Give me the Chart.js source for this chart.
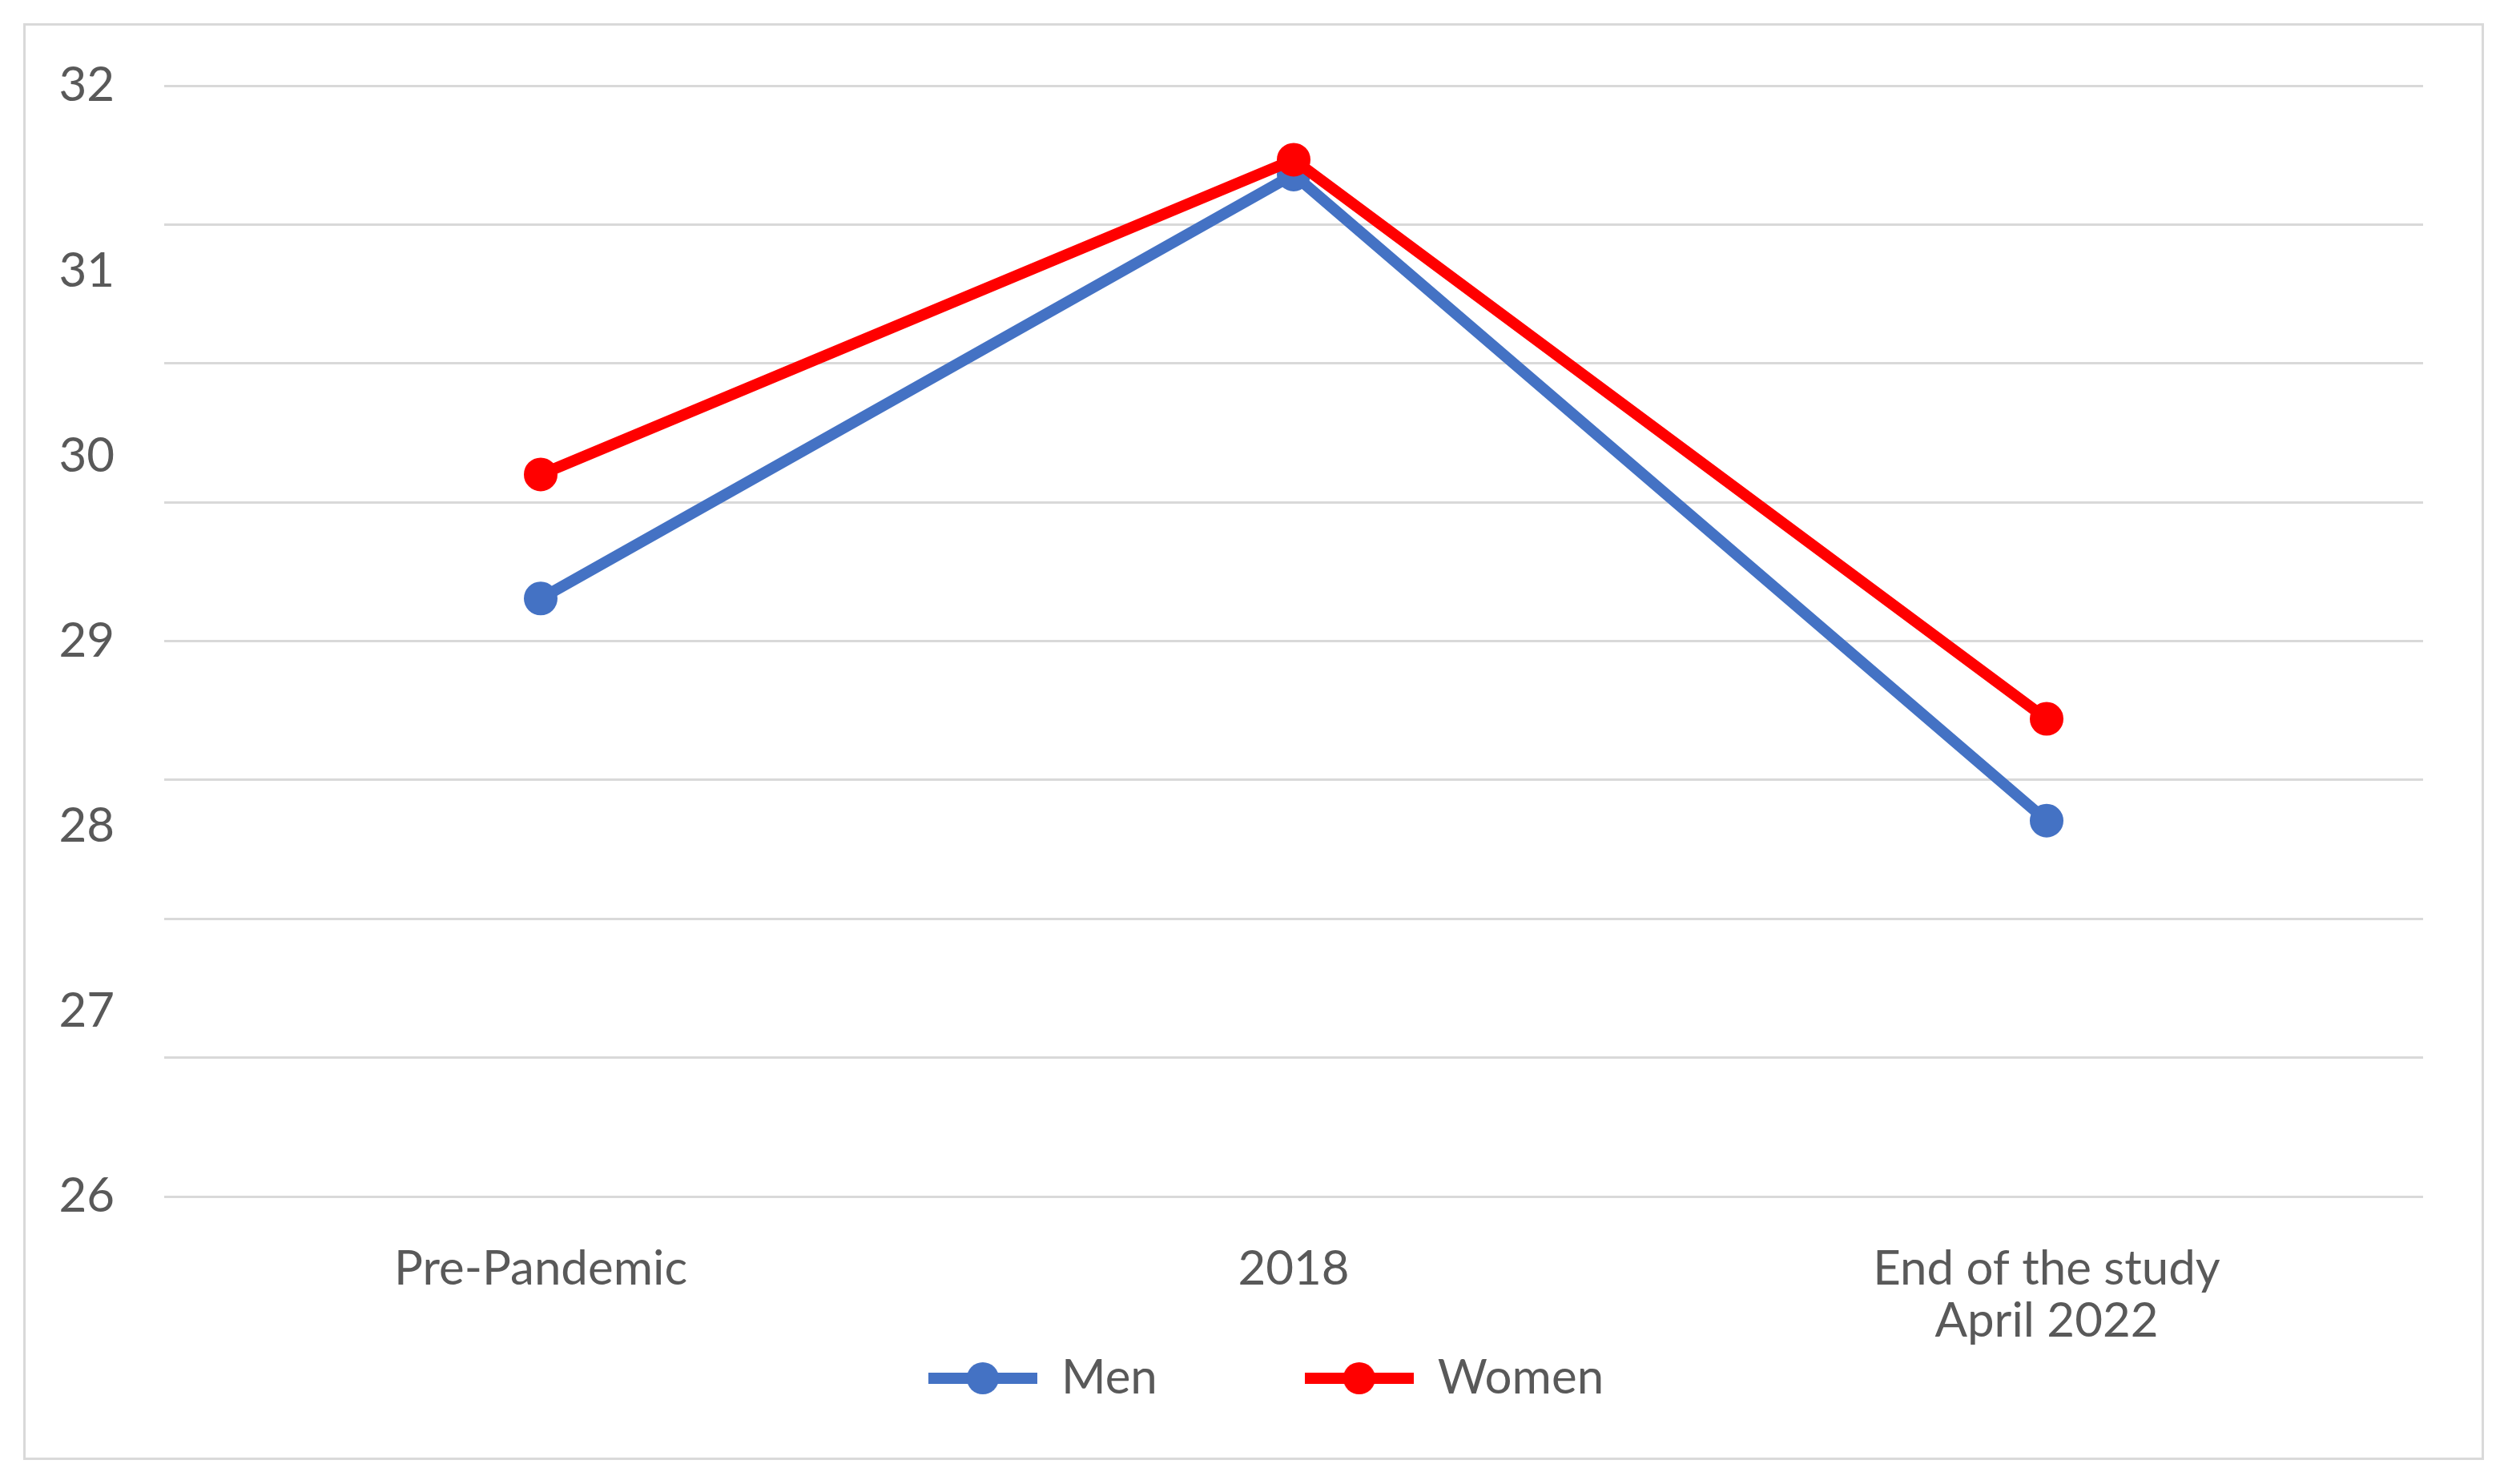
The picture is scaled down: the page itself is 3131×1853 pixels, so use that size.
<!DOCTYPE html>
<html>
<head>
<meta charset="utf-8">
<script src="https://cdn.jsdelivr.net/npm/chart.js@4"></script>
<style>
  body { margin: 0; background: #fff; overflow: hidden; }
  #box {
    position: absolute; left: 29px; top: 29px;
    width: 3066px; height: 1788px;
    border: 3px solid #d9d9d9; background: #fff;
  }
</style>
</head>
<body>
<div id="box"><canvas id="chart"></canvas></div>
<script>
var categories = ['Pre-Pandemic', '2018', ['End of the study', 'April 2022']];
var menValues = [29.23, 31.52, 28.03];
var womenValues = [29.90, 31.60, 28.58];
var seriesNames = ['Men', 'Women'];
var seriesColors = ['#4472C4', '#FF0000'];

var FONT = 'Lato, "Open Sans", sans-serif';
var TEXT = '#595959';

// legend marker: line with a dot, like Excel
function makeMarker(color) {
    var c = document.createElement('canvas');
    c.width = 136; c.height = 42;
    var g = c.getContext('2d');
    g.fillStyle = color;
    g.fillRect(0, 14, 136, 14);
    g.beginPath();
    g.arc(68, 21, 20, 0, Math.PI * 2);
    g.fill();
    return c;
}
var markers = seriesColors.map(makeMarker);

// nudge the legend to where Excel put it (box grows upward, bottom stays)
var legendShift = {
    id: 'legendShift',
    afterLayout: function(chart) {
        var lg = chart.legend;
        lg.left += 52; lg.right += 52;
        lg.top -= 187;
    }
};

function series(i, values) {
    return {
        label: seriesNames[i],
        data: values,
        borderColor: seriesColors[i],
        backgroundColor: seriesColors[i],
        borderWidth: 14,
        pointRadius: 20,
        pointBorderWidth: 2,
        pointBorderColor: seriesColors[i],
        pointBackgroundColor: seriesColors[i],
        yAxisID: 'y',
        order: 2 - i
    };
}

var ctx = document.getElementById('chart').getContext('2d');
var myChart = new Chart(ctx, {
    type: 'line',
    data: {
        labels: categories,
        datasets: [series(0, menValues), series(1, womenValues)]
    },
    options: {
        responsive: true,
        maintainAspectRatio: false,
        animation: false,
        devicePixelRatio: 1,
        layout: {
            padding: { left: 0, right: 73, top: 75, bottom: 10 }
        },
        scales: {
            x: {
                offset: true,
                grid: { display: false },
                border: { display: false },
                ticks: {
                    color: TEXT,
                    padding: 51,
                    maxRotation: 0,
                    font: { family: FONT, size: 60, lineHeight: 1.07 }
                },
                afterFit: function(scale) { scale.height = 200; }
            },
            y: {
                position: 'left',
                min: 26,
                max: 32,
                // invisible tick marks give the label gap
                grid: { display: false, drawTicks: true, tickLength: 62 },
                border: { display: false },
                ticks: {
                    stepSize: 1,
                    color: TEXT,
                    padding: 0,
                    font: { family: FONT, size: 60 }
                },
                afterFit: function(scale) { scale.width = 173; }
            },
            // gridlines in the original do not line up with the labels
            y2: {
                position: 'right',
                min: 26,
                max: 32,
                grid: { color: '#d9d9d9', lineWidth: 3, drawTicks: false },
                border: { display: false },
                ticks: { display: false, stepSize: 0.75 },
                afterFit: function(scale) { scale.width = 0; }
            }
        },
        plugins: {
            tooltip: { enabled: false },
            legend: {
                position: 'bottom',
                maxHeight: 116,
                labels: {
                    usePointStyle: true,
                    pointStyleWidth: 136,
                    padding: 184,
                    color: TEXT,
                    font: { family: FONT, size: 60 },
                    sort: function(a, b) { return a.datasetIndex - b.datasetIndex; },
                    generateLabels: function(chart) {
                        var items = Chart.defaults.plugins.legend.labels.generateLabels(chart);
                        items.forEach(function(it) { it.pointStyle = markers[it.datasetIndex]; });
                        return items;
                    }
                }
            }
        }
    },
    plugins: [legendShift]
});
</script>
</body>
</html>
